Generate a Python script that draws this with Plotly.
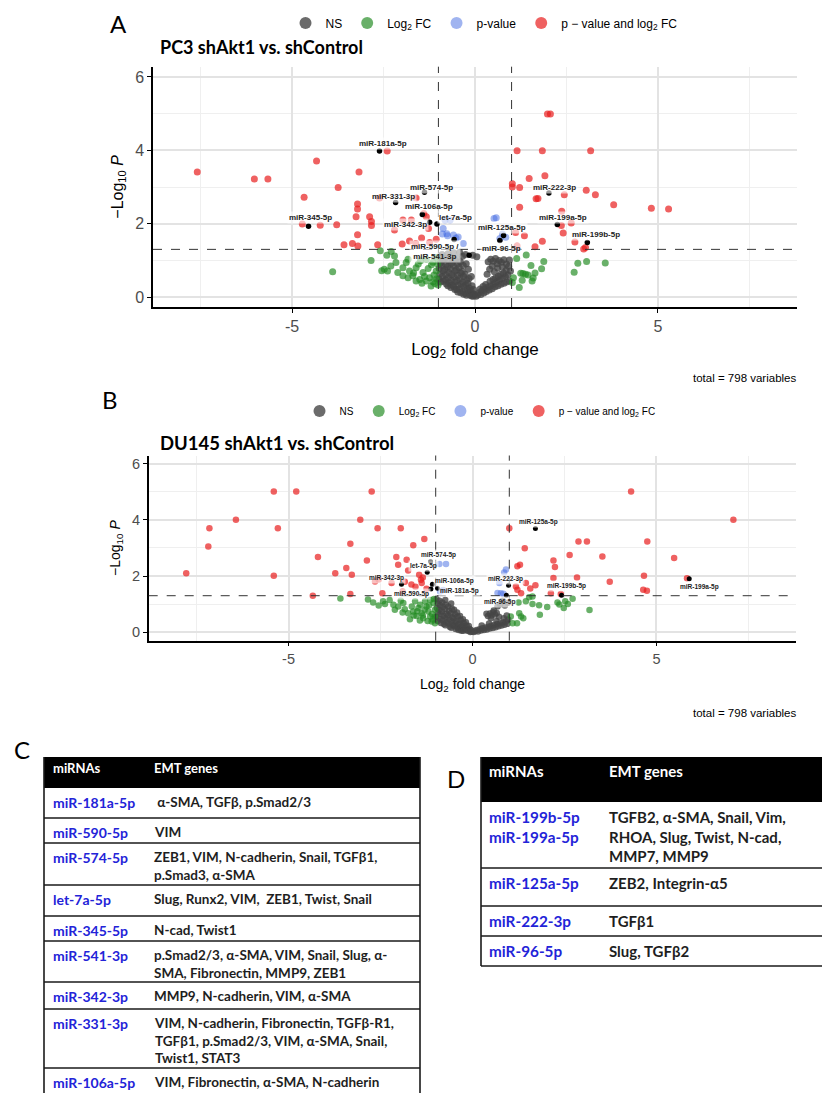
import plotly.graph_objects as go

# The page body has a default 8px margin, so the figure is drawn 8px in from the corner.
PAGE_OFFSET = 8
W, H = 822, 1085

# ---------------- data ----------------
CATEGORIES = ["NS", "Log<sub>2</sub> FC", "p-value", "p \u2212 value and log<sub>2</sub> FC"]
X_TICKS = [-5, 0, 5]
X_TICKTEXT = ["-5", "0", "5"]
Y_TICKS = [0, 2, 4, 6]
Y_TICKTEXT = ["0", "2", "4", "6"]
FC_CUTOFF = 1.0
P_CUTOFF = 1.301
A_TITLE = "PC3 shAkt1 vs. shControl"
B_TITLE = "DU145 shAkt1 vs. shControl"
TOTAL_TEXT = "total = 798 variables"

# Panel A (PC3)
A_NS = [
    (-0.97, 1.10), (-0.95, 0.93), (-0.98, 0.78), (-0.96, 0.62), (-0.99, 0.49), (-0.94, 0.41),
    (-0.90, 1.16), (-0.88, 1.01), (-0.91, 0.86), (-0.87, 0.71), (-0.89, 0.56), (-0.86, 0.43),
    (-0.82, 1.06), (-0.80, 0.89), (-0.83, 0.75), (-0.79, 0.61), (-0.81, 0.47), (-0.78, 0.36),
    (-0.74, 1.18), (-0.72, 0.99), (-0.75, 0.83), (-0.71, 0.67), (-0.73, 0.53), (-0.70, 0.39), (-0.74, 0.31),
    (-0.66, 1.09), (-0.64, 0.93), (-0.67, 0.77), (-0.63, 0.61), (-0.65, 0.46), (-0.62, 0.33), (-0.66, 0.26),
    (-0.58, 1.21), (-0.56, 1.02), (-0.59, 0.86), (-0.55, 0.71), (-0.57, 0.55), (-0.54, 0.41), (-0.58, 0.29), (-0.55, 0.21),
    (-0.50, 1.06), (-0.48, 0.90), (-0.51, 0.74), (-0.47, 0.59), (-0.49, 0.45), (-0.46, 0.32), (-0.50, 0.21), (-0.47, 0.14),
    (-0.42, 1.22), (-0.40, 0.96), (-0.43, 0.81), (-0.39, 0.66), (-0.41, 0.51), (-0.38, 0.36), (-0.42, 0.23), (-0.39, 0.12),
    (-0.34, 1.11), (-0.32, 0.86), (-0.35, 0.70), (-0.31, 0.56), (-0.33, 0.41), (-0.30, 0.28), (-0.34, 0.16), (-0.31, 0.08),
    (-0.26, 1.16), (-0.24, 0.91), (-0.27, 0.62), (-0.23, 0.46), (-0.25, 0.32), (-0.22, 0.20), (-0.26, 0.10), (-0.23, 0.05),
    (-0.18, 0.76), (-0.16, 0.51), (-0.19, 0.37), (-0.15, 0.24), (-0.17, 0.14), (-0.14, 0.06),
    (-0.10, 0.56), (-0.08, 0.31), (-0.11, 0.18), (-0.07, 0.09), (-0.09, 0.03),
    (-0.04, 0.21), (-0.02, 0.08), (-0.05, 0.02), (-0.06, 1.14),
    (0.03, 0.02), (0.07, 0.06), (0.11, 0.12), (0.16, 0.07), (0.19, 0.17), (0.24, 0.11), (0.27, 0.22),
    (0.31, 0.15), (0.35, 0.27), (0.39, 0.19), (0.43, 0.31), (0.47, 0.23), (0.51, 0.36), (0.55, 0.28),
    (0.59, 0.41), (0.63, 0.31), (0.67, 0.46), (0.71, 0.35), (0.75, 0.51), (0.79, 0.38), (0.83, 0.56),
    (0.87, 0.41), (0.90, 0.61), (0.94, 0.44), (0.97, 0.71), (0.14, 0.22), (0.29, 0.34), (0.41, 0.43),
    (0.56, 0.52), (0.70, 0.62), (0.85, 0.73), (0.64, 0.57), (0.49, 0.48), (0.22, 0.29), (0.78, 0.66),
    (0.92, 0.84), (0.36, 0.96), (0.43, 1.03), (0.50, 0.98), (0.56, 1.05), (0.61, 0.91), (0.66, 1.00),
    (0.72, 0.95), (0.79, 1.02), (0.47, 0.85), (0.62, 0.79), (0.86, 0.90), (0.94, 1.01), (0.40, 0.76),
    (0.53, 0.69), (0.75, 0.82), (0.33, 0.62), (0.05, 1.10),
]
A_FC = [
    (-3.89, 0.69), (-2.84, 1.00), (-2.59, 1.26), (-2.29, 1.24), (-2.41, 1.14), (-2.48, 0.76),
    (-2.39, 0.71), (-2.16, 0.94), (-2.11, 0.67), (-1.97, 0.80), (-1.88, 0.94), (-1.79, 0.71),
    (-1.70, 0.58), (-1.61, 0.80), (-1.51, 0.48), (-1.42, 0.67), (-1.33, 0.44), (-1.24, 0.53),
    (-1.15, 0.42), (-1.19, 0.88), (-1.06, 0.71), (-1.10, 0.37), (-1.01, 0.33), (-1.61, 0.44),
    (-1.83, 0.53), (-1.97, 0.58), (-1.49, 0.99), (-1.33, 1.03), (-1.83, 1.03), (-1.06, 1.08),
    (-2.20, 1.12), (-1.28, 0.78), (-1.12, 0.60), (-1.38, 0.56), (-1.20, 0.30), (-1.05, 0.50),
    (-1.45, 0.38), (-1.68, 0.66), (-2.30, 0.85), (-2.55, 0.72), (-1.55, 0.90), (-1.15, 0.95),
    (-1.02, 0.90),
    (1.14, 1.05), (1.40, 1.15), (1.88, 0.97), (1.82, 0.77), (1.53, 0.86), (1.25, 0.65), (1.31, 0.64),
    (1.38, 0.62), (1.45, 0.60), (1.64, 0.66), (1.59, 0.52), (1.56, 0.44), (1.29, 0.46), (1.21, 0.26),
    (1.05, 0.53), (1.02, 0.40), (2.81, 0.92), (3.05, 0.97), (3.56, 0.93), (2.71, 0.68),
]
A_P = [
    (-0.87, 1.87), (-0.77, 1.73), (-0.59, 1.69), (-0.82, 2.10), (-0.68, 2.10), (-0.46, 1.64),
    (-0.32, 1.46), (-0.89, 1.72), (-0.75, 1.67), (-0.52, 1.61),
    (0.52, 2.14), (0.58, 2.16), (0.68, 1.60), (0.84, 1.63), (0.75, 1.72),
]
A_BOTH = [
    (-7.59, 3.41), (-6.03, 3.22), (-5.66, 3.22), (-4.33, 3.71), (-3.74, 2.99), (-4.67, 2.72),
    (-3.17, 3.41), (-3.21, 2.54), (-3.21, 2.40), (-3.25, 2.19), (-2.88, 2.19), (-2.83, 2.06),
    (-2.83, 1.95), (-3.21, 1.70), (-3.58, 1.43), (-3.35, 1.46), (-3.20, 1.39), (-2.66, 1.43),
    (-1.99, 1.45), (-1.46, 1.61), (-2.40, 3.98), (-4.72, 1.99), (-4.23, 1.96), (-3.78, 1.97),
    (-2.20, 1.83), (-1.97, 2.10), (-1.74, 2.10), (-1.61, 2.70), (-2.61, 2.70), (-1.27, 1.87),
    (-1.06, 1.58), (-1.79, 1.53), (-1.62, 1.46), (-1.24, 1.49), (-1.33, 2.19), (-1.40, 2.28),
    (1.98, 4.99), (2.06, 4.99), (1.15, 3.99), (1.84, 3.99), (3.16, 3.99), (1.91, 3.31),
    (1.48, 3.23), (1.02, 3.09), (1.02, 3.00), (1.22, 2.99), (3.04, 2.91), (3.29, 2.79),
    (1.67, 2.68), (1.72, 2.69), (2.44, 2.79), (1.22, 2.45), (3.79, 2.52), (4.82, 2.42),
    (5.29, 2.40), (2.37, 2.34), (2.63, 2.02), (2.36, 1.95), (2.41, 1.75), (1.35, 1.67),
    (1.84, 1.52), (1.64, 1.37), (2.73, 1.50), (2.97, 1.31), (3.02, 1.35), (1.11, 1.76),
    (1.15, 1.39),
]
A_LAB_PTS = {
    "miR-181a-5p": (-2.61, 3.98), "miR-574-5p": (-1.38, 2.86), "miR-331-3p": (-2.17, 2.58),
    "miR-106a-5p": (-1.44, 2.25), "miR-342-3p": (-1.24, 2.04), "let-7a-5p": (-1.04, 1.99),
    "miR-345-5p": (-4.55, 1.93), "miR-590-5p": (-0.57, 1.57), "miR-541-3p": (-0.16, 1.14),
    "miR-222-3p": (2.02, 2.84), "miR-199a-5p": (2.25, 1.98), "miR-199b-5p": (3.07, 1.49),
    "miR-125a-5p": (0.78, 1.68), "miR-96-5p": (0.68, 1.54),
}

# Panel B (DU145)
B_NS = [
    (-0.98, 1.18), (-0.95, 1.02), (-0.97, 0.86), (-0.94, 0.70), (-0.98, 0.55), (-0.95, 0.40),
    (-0.90, 1.12), (-0.88, 0.96), (-0.91, 0.80), (-0.87, 0.64), (-0.89, 0.48), (-0.86, 0.33),
    (-0.82, 1.06), (-0.80, 0.90), (-0.83, 0.74), (-0.79, 0.58), (-0.81, 0.43), (-0.78, 0.29),
    (-0.74, 1.15), (-0.72, 0.98), (-0.75, 0.82), (-0.71, 0.66), (-0.73, 0.50), (-0.70, 0.36), (-0.74, 0.25),
    (-0.66, 0.92), (-0.64, 0.76), (-0.67, 0.60), (-0.63, 0.45), (-0.65, 0.31), (-0.62, 0.20),
    (-0.58, 1.02), (-0.56, 0.84), (-0.59, 0.68), (-0.55, 0.53), (-0.57, 0.39), (-0.54, 0.26), (-0.58, 0.16),
    (-0.50, 0.80), (-0.48, 0.64), (-0.51, 0.49), (-0.47, 0.35), (-0.49, 0.22), (-0.46, 0.12),
    (-0.42, 0.70), (-0.40, 0.55), (-0.43, 0.41), (-0.39, 0.28), (-0.41, 0.16), (-0.38, 0.08),
    (-0.34, 0.58), (-0.32, 0.44), (-0.35, 0.31), (-0.31, 0.20), (-0.33, 0.10), (-0.30, 0.05),
    (-0.26, 0.46), (-0.24, 0.33), (-0.27, 0.22), (-0.23, 0.12), (-0.25, 0.05),
    (-0.18, 0.36), (-0.16, 0.24), (-0.19, 0.14), (-0.15, 0.06),
    (-0.10, 0.22), (-0.08, 0.12), (-0.11, 0.05), (-0.04, 0.08), (-0.02, 0.02), (-0.06, 0.01),
    (0.03, 0.01), (0.07, 0.04), (0.11, 0.08), (0.15, 0.03), (0.19, 0.11), (0.23, 0.06), (0.27, 0.14),
    (0.31, 0.08), (0.35, 0.17), (0.39, 0.10), (0.43, 0.20), (0.47, 0.13), (0.51, 0.23), (0.55, 0.15),
    (0.59, 0.26), (0.63, 0.18), (0.67, 0.29), (0.71, 0.21), (0.75, 0.32), (0.79, 0.24), (0.83, 0.35),
    (0.87, 0.27), (0.91, 0.38), (0.95, 0.30), (0.97, 0.45), (0.25, 0.24), (0.45, 0.31), (0.65, 0.40),
    (0.85, 0.50), (0.93, 0.60), (0.42, 0.58), (0.47, 0.67), (0.52, 0.60), (0.56, 0.71), (0.61, 0.63),
    (0.66, 0.69), (0.50, 0.50), (0.72, 0.55), (0.38, 0.66), (0.58, 0.78), (0.75, 1.00), (0.82, 1.12),
    (0.88, 0.95), (0.96, 1.05), (0.68, 0.92),
]
B_FC = [
    (-3.59, 1.20), (-2.84, 1.17), (-2.70, 1.06), (-2.43, 1.10), (-2.38, 1.01), (-2.15, 0.98),
    (-2.11, 0.80), (-2.02, 0.92), (-1.88, 1.04), (-1.84, 0.82), (-1.75, 0.68), (-1.65, 0.92),
    (-1.61, 0.74), (-1.52, 0.58), (-1.47, 0.86), (-1.38, 0.68), (-1.34, 0.50), (-1.25, 0.92),
    (-1.20, 0.74), (-1.15, 0.56), (-1.11, 0.38), (-1.02, 0.80), (-1.02, 0.56), (-1.06, 1.04),
    (-1.29, 1.10), (-1.56, 1.10), (-2.25, 1.15), (-1.70, 0.46), (-1.43, 0.42), (-1.02, 0.32),
    (-1.30, 0.80), (-1.10, 0.65), (-1.18, 0.95), (-1.42, 0.98), (-1.60, 0.60), (-1.90, 0.70),
    (-1.08, 0.45), (-1.22, 0.40), (-1.50, 0.75), (-1.35, 0.60), (-1.05, 1.18), (-1.15, 1.15),
    (-2.55, 0.95), (-1.95, 1.12),
    (1.04, 0.56), (1.21, 0.32), (1.27, 0.68), (1.32, 0.56), (1.38, 0.50), (1.09, 0.32),
    (1.45, 1.10), (1.63, 1.01), (1.63, 1.27), (1.81, 0.96), (1.83, 0.62), (2.03, 0.90),
    (2.31, 1.06), (2.36, 0.99), (2.48, 0.86), (2.52, 1.10), (2.59, 1.01), (2.72, 1.19),
    (3.18, 0.79), (1.54, 1.25), (1.25, 1.06),
]
B_P = [
    (-0.72, 2.43), (-0.90, 2.43), (-0.88, 1.45), (-0.80, 1.50),
    (0.91, 2.23), (0.86, 2.13), (0.77, 1.39), (0.84, 1.37), (0.73, 1.75), (0.68, 1.40),
]
B_BOTH = [
    (-5.40, 5.01), (-4.79, 5.01), (-2.74, 5.01), (-6.43, 4.00), (-3.05, 4.00), (-7.15, 3.70),
    (-5.29, 3.70), (-2.58, 3.70), (-1.95, 3.70), (-1.31, 3.32), (-1.61, 3.10), (-3.32, 3.15),
    (-7.18, 3.05), (-4.20, 2.68), (-2.87, 2.55), (-2.07, 2.68), (-2.02, 2.40), (-3.43, 2.29),
    (-3.73, 2.10), (-3.28, 2.05), (-7.78, 2.10), (-5.40, 2.01), (-4.34, 1.30), (-3.32, 1.36),
    (-2.45, 1.39), (-1.79, 2.58), (-1.75, 2.20), (-1.84, 1.80), (-2.20, 1.75), (-1.66, 1.70),
    (-1.40, 1.87), (-1.38, 1.75), (-1.35, 1.95), (-1.55, 1.62), (-2.65, 1.81), (-2.55, 1.88),
    (-1.45, 2.05), (-1.25, 1.55), (-1.90, 1.45),
    (4.31, 5.01), (7.09, 4.00), (1.00, 3.70), (1.42, 2.99), (2.88, 3.23), (3.11, 3.23),
    (4.75, 3.23), (2.64, 2.75), (3.53, 2.70), (5.48, 2.64), (2.20, 2.55), (2.24, 2.32),
    (1.22, 2.35), (1.29, 2.40), (2.20, 1.93), (2.84, 1.95), (3.73, 1.80), (4.66, 2.01),
    (4.64, 1.51), (4.74, 1.48), (5.83, 1.92), (1.71, 1.67), (1.57, 1.56), (1.18, 1.63),
    (1.22, 1.51), (1.32, 1.39), (1.45, 1.75), (2.40, 1.36), (2.13, 1.39),
]
B_LAB_PTS = {
    "miR-574-5p": (-1.14, 2.52), "let-7a-5p": (-1.23, 2.14), "miR-342-3p": (-1.93, 1.71),
    "miR-106a-5p": (-1.09, 1.71), "miR-590-5p": (-1.13, 1.54), "miR-181a-5p": (-0.95, 1.57),
    "miR-125a-5p": (1.71, 3.69), "miR-222-3p": (0.98, 1.67), "miR-96-5p": (0.92, 1.32),
    "miR-199b-5p": (2.42, 1.32), "miR-199a-5p": (5.89, 1.90),
}

# Tables
TABLE_HEADER = ["miRNAs", "EMT genes"]
C_MIRNA = ["miR-181a-5p", "miR-590-5p", "miR-574-5p", "let-7a-5p", "miR-345-5p",
           "miR-541-3p", "miR-342-3p", "miR-331-3p", "miR-106a-5p"]
C_GENES = [
    ["\u00a0\u03b1-SMA, TGF\u03b2, p.Smad2/3"],
    ["VIM"],
    ["ZEB1, VIM, N-cadherin, Snail, TGF\u03b21,", "p.Smad3, \u03b1-SMA"],
    ["Slug, Runx2, VIM,\u00a0 ZEB1, Twist, Snail"],
    ["N-cad, Twist1"],
    ["p.Smad2/3, \u03b1-SMA, VIM, Snail, Slug, \u03b1-", "SMA, Fibronectin, MMP9, ZEB1"],
    ["MMP9, N-cadherin, VIM, \u03b1-SMA"],
    ["VIM, N-cadherin, Fibronectin, TGF\u03b2-R1,", "TGF\u03b21, p.Smad2/3, VIM, \u03b1-SMA, Snail,", "Twist1, STAT3"],
    ["VIM, Fibronectin, \u03b1-SMA, N-cadherin"],
]
D_MIRNA = [["miR-199b-5p", "miR-199a-5p"], ["miR-125a-5p"], ["miR-222-3p"], ["miR-96-5p"]]
D_GENES = [
    ["TGFB2, \u03b1-SMA, Snail, Vim,", "RHOA, Slug, Twist, N-cad,", "MMP7, MMP9"],
    ["ZEB2, Integrin-\u03b15"],
    ["TGF\u03b21"],
    ["Slug, TGF\u03b22"],
]

# ---------------- layout constants (page pixels) ----------------
PLOT_FONT = "Liberation Sans, Arial, sans-serif"
TAB_FONT = "Lato, Open Sans, sans-serif"
COLORS = ["rgba(70,70,70,0.8)", "rgba(34,139,34,0.68)", "rgba(65,105,225,0.5)", "rgba(232,30,30,0.7)"]

A_LABELS = [("miR-181a-5p", -2.52, 4.20), ("miR-574-5p", -1.19, 3.00), ("miR-331-3p", -2.22, 2.74),
            ("miR-106a-5p", -1.27, 2.47), ("miR-342-3p", -1.90, 1.97), ("let-7a-5p", -0.52, 2.16),
            ("miR-345-5p", -4.50, 2.16), ("miR-590-5p /<br>miR-541-3p", -1.08, 1.245),
            ("miR-222-3p", 2.16, 3.00), ("miR-199a-5p", 2.40, 2.18), ("miR-199b-5p", 3.32, 1.71),
            ("miR-125a-5p", 0.75, 1.89), ("miR-96-5p", 0.72, 1.32)]
B_LABELS = [("miR-574-5p", -0.93, 2.74), ("let-7a-5p", -1.34, 2.35), ("miR-342-3p", -2.35, 1.93),
            ("miR-106a-5p", -0.49, 1.83), ("miR-181a-5p", -0.36, 1.47), ("miR-590-5p", -1.65, 1.37),
            ("miR-125a-5p", 1.78, 3.92), ("miR-222-3p", 0.91, 1.90), ("miR-96-5p", 0.73, 1.07),
            ("miR-199b-5p", 2.56, 1.63), ("miR-199a-5p", 6.18, 1.60)]

C_LEFT, C_RIGHT, C_COL1, C_COL2 = 44, 420, 52, 153
C_TOP, C_HEAD_H = 757, 31
C_ROW_H = [30, 25, 42, 31, 25, 41, 27, 59, 40]
D_LEFT, D_RIGHT, D_COL1, D_COL2 = 481, 850, 488, 608
D_TOP, D_HEAD_H = 757, 45
D_ROW_H = [66, 38, 30, 30]


def px(x):
    return (x - PAGE_OFFSET) / W


def py(y):
    return 1 - (y - PAGE_OFFSET) / H


fig = go.Figure()


def add_panel(groups, lab_pts, xa, ya, leg, msize):
    for name, pts, col in zip(CATEGORIES, groups, COLORS):
        fig.add_trace(go.Scatter(
            x=[p[0] for p in pts], y=[p[1] for p in pts], mode="markers", name=name,
            marker=dict(color=col, size=msize, line=dict(width=0)),
            xaxis=xa, yaxis=ya, legend=leg, hoverinfo="skip"))
    fig.add_trace(go.Scatter(
        x=[v[0] for v in lab_pts.values()], y=[v[1] for v in lab_pts.values()],
        mode="markers", marker=dict(color="black", size=msize - 1.5),
        xaxis=xa, yaxis=ya, showlegend=False, hoverinfo="skip"))


add_panel([A_NS, A_FC, A_P, A_BOTH], A_LAB_PTS, "x", "y", "legend", 7)
add_panel([B_NS, B_FC, B_P, B_BOTH], B_LAB_PTS, "x2", "y2", "legend2", 6.5)


def xaxis_cfg(domain, anchor, tick_size, title_size, standoff):
    return dict(
        domain=domain, anchor=anchor, range=[-8.8, 8.8],
        tickmode="array", tickvals=X_TICKS, ticktext=X_TICKTEXT,
        showline=True, linecolor="black", linewidth=1.5, ticks="outside", ticklen=4,
        tickcolor="black", tickfont=dict(family=PLOT_FONT, size=tick_size, color="#4d4d4d"),
        showgrid=True, gridcolor="#e3e3e3", gridwidth=1.6, zeroline=False,
        minor=dict(tickmode="array", tickvals=[-7.5, -2.5, 2.5, 7.5], showgrid=True,
                   gridcolor="#efefef", gridwidth=1, ticks=""),
        title=dict(text="Log<sub>2</sub> fold change", standoff=standoff,
                   font=dict(family=PLOT_FONT, size=title_size, color="black")),
    )


def yaxis_cfg(domain, anchor, yrange, tick_size, title_size):
    return dict(
        domain=domain, anchor=anchor, range=yrange,
        tickmode="array", tickvals=Y_TICKS, ticktext=Y_TICKTEXT,
        showline=True, linecolor="black", linewidth=1.5, ticks="outside", ticklen=4,
        tickcolor="black", tickfont=dict(family=PLOT_FONT, size=tick_size, color="#4d4d4d"),
        showgrid=True, gridcolor="#e3e3e3", gridwidth=1.6, zeroline=False,
        minor=dict(tickmode="array", tickvals=[1, 3, 5], showgrid=True,
                   gridcolor="#efefef", gridwidth=1, ticks=""),
        title=dict(text="\u2212Log<sub>10</sub> <i>P</i>", standoff=8,
                   font=dict(family=PLOT_FONT, size=title_size, color="black")),
    )


shapes = []
annotations = []

# cutoff lines
for xa, ya in (("x", "y"), ("x2", "y2")):
    for xv in (-FC_CUTOFF, FC_CUTOFF):
        shapes.append(dict(type="line", xref=xa, yref=ya + " domain", x0=xv, x1=xv, y0=0, y1=1,
                           line=dict(color="#333333", width=1, dash="dash"), layer="above"))
    shapes.append(dict(type="line", xref=xa + " domain", yref=ya, x0=0, x1=1, y0=P_CUTOFF, y1=P_CUTOFF,
                       line=dict(color="#333333", width=1, dash="dash"), layer="above"))

# point labels
for labels, xa, ya, fs in ((A_LABELS, "x", "y", 8), (B_LABELS, "x2", "y2", 6.5)):
    for text, lx, ly in labels:
        annotations.append(dict(text="<b>" + text + "</b>", x=lx, y=ly, xref=xa, yref=ya,
                                showarrow=False, font=dict(family=PLOT_FONT, size=fs, color="#222222"),
                                bgcolor="rgba(255,255,255,0.6)", borderpad=1))


def txt(text, x, y, size, family=PLOT_FONT, color="black", xanchor="left", yanchor="middle",
        weight="normal"):
    annotations.append(dict(text=text, x=px(x), y=py(y), xref="paper", yref="paper", showarrow=False,
                            xanchor=xanchor, yanchor=yanchor, align="left", borderpad=0,
                            font=dict(family=family, size=size, color=color, weight=weight)))


# panel letters, titles, totals
txt("A", 118, 23, 24, family=TAB_FONT, xanchor="center")
txt("B", 110, 399, 24, family=TAB_FONT, xanchor="center")
txt("C", 22, 749, 24, family=TAB_FONT, xanchor="center")
txt("D", 456, 778, 24, family=TAB_FONT, xanchor="center")
txt(A_TITLE, 159, 47, 18, family=TAB_FONT, weight="bold")
txt(B_TITLE, 159, 443, 18.5, family=TAB_FONT, weight="bold")
txt(TOTAL_TEXT, 797, 378, 11.5, xanchor="right")
txt(TOTAL_TEXT, 797, 713, 11.5, xanchor="right")


def hline(x0, x1, y, color="#1a1a1a", width=1.6):
    shapes.append(dict(type="line", xref="paper", yref="paper", x0=px(x0), x1=px(x1),
                       y0=py(y), y1=py(y), line=dict(color=color, width=width)))


def vline(x, y0, y1, color="#1a1a1a", width=1.6):
    shapes.append(dict(type="line", xref="paper", yref="paper", x0=px(x), x1=px(x),
                       y0=py(y0), y1=py(y1), line=dict(color=color, width=width)))


def draw_table(left, right, col1, col2, top, head_h, row_h, mirnas, genes, fs_head, fs, fs_gene,
               off, head_off, bottom_line=True):
    shapes.append(dict(type="rect", xref="paper", yref="paper", x0=px(left), x1=px(right),
                       y0=py(top + head_h), y1=py(top), fillcolor="black", line=dict(width=0)))
    txt(TABLE_HEADER[0], col1, top + head_off, fs_head, family=TAB_FONT, color="white", weight="bold")
    txt(TABLE_HEADER[1], col2, top + head_off, fs_head, family=TAB_FONT, color="white", weight="bold")
    y = top + head_h
    n = len(row_h)
    for i, (h, mi, ge) in enumerate(zip(row_h, mirnas, genes)):
        mi_lines = mi if isinstance(mi, list) else [mi]
        txt("<br>".join(mi_lines), col1, y + off - 0.6 * fs, fs, family=TAB_FONT, color="#2323d8",
            weight="bold", yanchor="top")
        txt("<br>".join(ge), col2, y + off - 0.6 * fs_gene, fs_gene, family=TAB_FONT, color="#1e1e1e",
            weight="bold", yanchor="top")
        y += h
        if bottom_line or i < n - 1:
            hline(left, right, y)
    vline(left, top, y)
    vline(right, top, y)


draw_table(C_LEFT, C_RIGHT, C_COL1, C_COL2, C_TOP, C_HEAD_H, C_ROW_H, C_MIRNA, C_GENES,
           13, 14, 13.5, 13, 11, bottom_line=False)
draw_table(D_LEFT, D_RIGHT, D_COL1, D_COL2, D_TOP, D_HEAD_H, D_ROW_H, D_MIRNA, D_GENES,
           15, 15.3, 15, 14, 14)

fig.update_layout(
    width=W, height=H, margin=dict(l=0, r=0, t=0, b=0),
    paper_bgcolor="white", plot_bgcolor="white",
    font=dict(family=PLOT_FONT),
    xaxis=xaxis_cfg([px(153), px(797)], "y", 16, 17, 9),
    yaxis=yaxis_cfg([py(307), py(66.7)], "x", [-0.27, 6.28], 16, 16),
    xaxis2=xaxis_cfg([px(148.7), px(796.3)], "y2", 14.5, 14, 13),
    yaxis2=yaxis_cfg([py(640.7), py(455.5)], "x2", [-0.30, 6.29], 14.5, 14),
    legend=dict(orientation="h", x=px(484), y=py(23), xanchor="center", yanchor="middle",
                font=dict(family=PLOT_FONT, size=12, color="black"), itemsizing="constant",
                bgcolor="rgba(0,0,0,0)"),
    legend2=dict(orientation="h", x=px(480), y=py(411), xanchor="center", yanchor="middle",
                 font=dict(family=PLOT_FONT, size=10, color="black"), itemsizing="constant",
                 bgcolor="rgba(0,0,0,0)"),
    shapes=shapes, annotations=annotations, showlegend=True,
)

fig.write_html("out.html")
